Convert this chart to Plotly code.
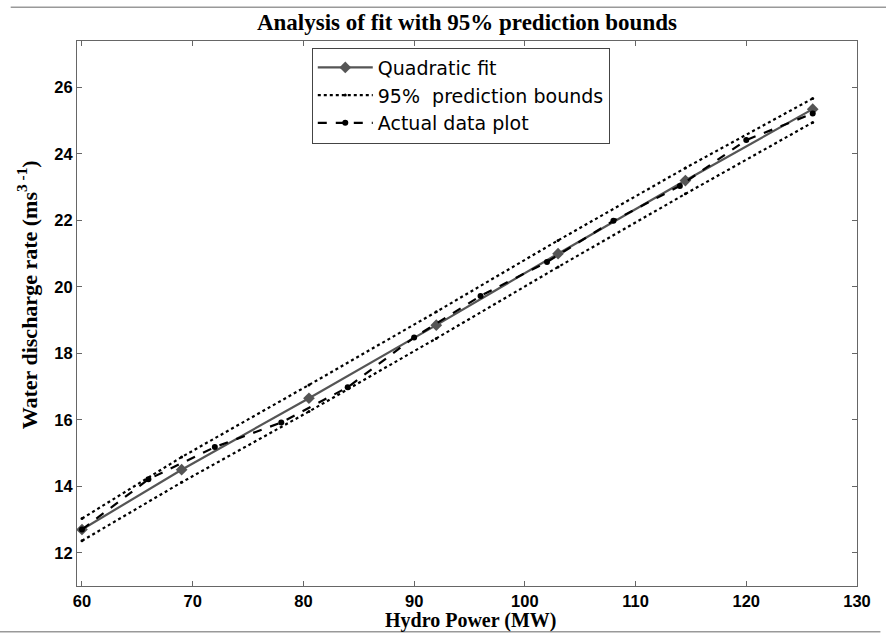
import plotly.graph_objects as go

# Quadratic fit (points marked on the curve)
fit_x = [60, 69, 80.5, 92, 103, 114.5, 126]
fit_y = [12.70, 14.50, 16.65, 18.85, 21.00, 23.20, 25.35]

# 95% prediction bounds
bound_x = [60, 69, 80.5, 92, 103, 114.5, 126]
upper_y = [13.03, 14.88, 17.05, 19.25, 21.40, 23.58, 25.67]
lower_y = [12.36, 14.12, 16.25, 18.45, 20.60, 22.80, 24.95]

# Actual data
act_x = [60, 66, 72, 78, 84, 90, 96, 102, 108, 114, 120, 126]
act_y = [12.70, 14.21, 15.18, 15.92, 16.98, 18.48, 19.73, 20.75, 21.99, 23.04, 24.42, 25.22]

x_ticks = [60, 70, 80, 90, 100, 110, 120, 130]
y_ticks = [12, 14, 16, 18, 20, 22, 24, 26]

fig = go.Figure()
fig.add_trace(go.Scatter(
    x=fit_x, y=fit_y, mode="lines+markers", name="Quadratic fit",
    line=dict(color="#555555", width=2.2),
    marker=dict(symbol="diamond", size=9, color="#555555"),
))
fig.add_trace(go.Scatter(
    x=bound_x, y=upper_y, mode="lines+markers", name="95%  prediction bounds",
    line=dict(color="black", width=2.2, dash="dot"),
    marker=dict(symbol="circle", size=3, color="black"),
    legendgroup="b",
))
fig.add_trace(go.Scatter(
    x=bound_x, y=lower_y, mode="lines+markers", name="95%  prediction bounds",
    line=dict(color="black", width=2.2, dash="dot"),
    marker=dict(symbol="circle", size=3, color="black"),
    legendgroup="b", showlegend=False,
))
fig.add_trace(go.Scatter(
    x=act_x, y=act_y, mode="lines+markers", name="Actual data plot",
    line=dict(color="black", width=2.2, dash="dash"),
    marker=dict(symbol="circle", size=6, color="black"),
))

axis_common = dict(
    showline=True, linecolor="#666666", linewidth=1.2, mirror="ticks",
    ticks="inside", ticklen=5, tickcolor="#666666", showgrid=False, zeroline=False,
    automargin=False,
    tickfont=dict(family="Liberation Sans", size=16.5, color="black", weight="bold"),
)

fig.update_layout(
    width=886, height=633,
    margin=dict(l=77, r=29, t=41, b=47, autoexpand=False),
    paper_bgcolor="white", plot_bgcolor="white",
    title=dict(text="<b>Analysis of fit with 95% prediction bounds</b>",
               x=0.527, xanchor="center", y=0.966, yanchor="middle",
               font=dict(family="Liberation Serif", size=23, color="black")),
    xaxis=dict(range=[59.55, 130], tickvals=x_ticks, **axis_common),
    yaxis=dict(range=[11.0, 27.4], tickvals=y_ticks, **axis_common),
    legend=dict(x=0.301, y=0.988, xanchor="left", yanchor="top",
                bgcolor="white", bordercolor="#444444", borderwidth=1,
                font=dict(family="DejaVu Sans", size=19, color="black"),
                tracegroupgap=0, itemwidth=55),
    showlegend=True,
)

fig.add_annotation(
    text="<b>Hydro Power (MW)</b>",
    xref="paper", yref="paper", x=0.505, y=-0.064, xanchor="center", yanchor="middle",
    showarrow=False,
    font=dict(family="Liberation Serif", size=20, color="black"),
)
fig.add_annotation(
    text="<b>Water discharge rate (ms<sup>3 -1</sup>)</b>",
    xref="paper", yref="paper", x=-0.063, y=0.535, xanchor="center", yanchor="middle",
    textangle=-90, showarrow=False,
    font=dict(family="Liberation Serif", size=22, color="black"),
)

fig.add_shape(type="line", xref="paper", yref="paper", x0=-0.085, x1=1.04,
              y0=1.062, y1=1.062, line=dict(color="#999999", width=1.5))
fig.add_shape(type="line", xref="paper", yref="paper", x0=-0.1, x1=1.03,
              y0=-0.084, y1=-0.084, line=dict(color="#999999", width=1.5))

fig.write_html("out.html")
